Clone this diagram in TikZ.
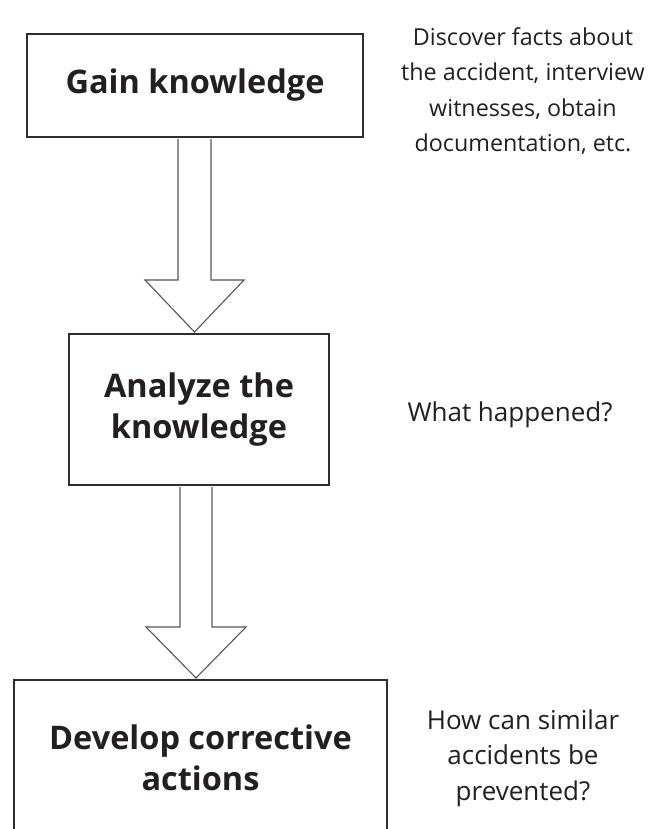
\documentclass[tikz,border=0pt]{standalone}
\usepackage{fontspec}
\setmainfont{Open Sans}
\usetikzlibrary{calc}
\definecolor{ink}{HTML}{231F20}
\definecolor{frame}{HTML}{2E2E2E}
\definecolor{outline}{HTML}{555555}
\begin{document}
\begin{tikzpicture}[x=1pt,y=-1pt,
  stepbox/.style={draw=frame,line width=2pt,fill=white,align=center,
    text=ink,font=\bfseries\fontsize{32.5}{41}\selectfont,inner sep=0pt},
  note/.style={align=center,text=ink,font=\fontsize{26}{35.5}\selectfont,inner sep=0pt},
  hollow/.style={draw=outline,line width=1.1pt,fill=white,line join=miter}]
\clip (0,0) rectangle (653,829);
\fill[white] (0,0) rectangle (653,829);

% process steps
\node[stepbox,minimum width=336pt,minimum height=103pt] (g) at (195,85.5) {Gain knowledge};
\node[stepbox,minimum width=260pt,minimum height=151pt] (a) at (199,409.5) {Analyze the\\knowledge};
\node[stepbox,minimum width=373pt,minimum height=156pt] (d) at (200.5,758) {Develop corrective\\actions};

% arrow axes
\coordinate (ax1) at (194.5,0);
\coordinate (ax2) at (196,0);

% hollow block arrows between the steps
\draw[hollow] ($(g.south -| ax1)+(-16.5,1)$) -- ($(a.north -| ax1)+(-16.5,-53)$)
  -- ($(a.north -| ax1)+(-49.5,-53)$) -- ($(a.north -| ax1)+(0,-1)$)
  -- ($(a.north -| ax1)+(49.5,-53)$) -- ($(a.north -| ax1)+(16.5,-53)$)
  -- ($(g.south -| ax1)+(16.5,1)$);
\draw[hollow] ($(a.south -| ax2)+(-16,1)$) -- ($(d.north -| ax2)+(-16,-52)$)
  -- ($(d.north -| ax2)+(-50,-52)$) -- ($(d.north -| ax2)+(0,-1)$)
  -- ($(d.north -| ax2)+(50,-52)$) -- ($(d.north -| ax2)+(16,-52)$)
  -- ($(a.south -| ax2)+(16,1)$);

% side notes (base anchor sits on the last line)
\node[note,font=\fontsize{23.3}{35.5}\selectfont,anchor=base] (n1) at (523,152) {Discover facts about\\the accident, interview\\witnesses, obtain\\documentation, etc.};
\node[note,anchor=base] (n2) at (510,421) {What happened?};
\node[note,anchor=base] (n3) at (523,800) {How can similar\\accidents be\\prevented?};
\end{tikzpicture}
\end{document}
